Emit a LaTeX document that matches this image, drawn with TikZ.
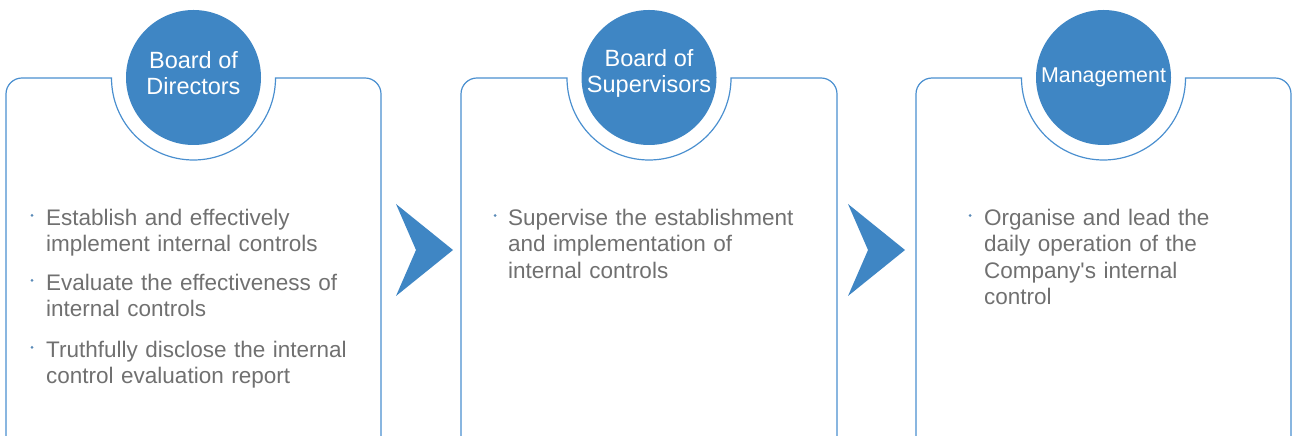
\documentclass[tikz,border=0pt]{standalone}
\usepackage{fontspec}
\setmainfont{Liberation Sans}[Ligatures=TeXOff]
\definecolor{cblue}{HTML}{3F86C4}
\definecolor{lineblue}{HTML}{4A8FCF}
\definecolor{txtgray}{HTML}{707070}
\tikzset{
  x=1pt,y=1pt,
  boxline/.style={draw=lineblue,line width=1.2pt},
  head/.style={circle,fill=cblue,minimum size=135pt,inner sep=0pt},
  headtext/.style={text=white,align=center,inner sep=0pt,font=\fontsize{23.5}{26}\selectfont},
  chev/.style={fill=cblue,draw=none},
  item/.style={anchor=north west,inner sep=0pt,text=txtgray,text width=330pt,align=left,
    font=\fontsize{22.5}{26.5}\selectfont},
  dot/.style={circle,fill=lineblue!70!gray,inner sep=0pt,minimum size=3pt}
}
\begin{document}
\begin{tikzpicture}
\useasboundingbox (0,0) rectangle (1292,436);
\begin{scope}
\clip (0,0) rectangle (1292,436);
% boxes
\draw[boxline] (6,-5) -- (6,342) arc[start angle=180,end angle=90,radius=16]
  -- (111.5,358) arc[start angle=180,end angle=360,radius=82]
  -- (365,358) arc[start angle=90,end angle=0,radius=16] -- (381,-5);
\draw[boxline] (461,-5) -- (461,342) arc[start angle=180,end angle=90,radius=16]
  -- (567,358) arc[start angle=180,end angle=360,radius=82]
  -- (821,358) arc[start angle=90,end angle=0,radius=16] -- (837,-5);
\draw[boxline] (916,-5) -- (916,342) arc[start angle=180,end angle=90,radius=16]
  -- (1021.5,358) arc[start angle=180,end angle=360,radius=82]
  -- (1275,358) arc[start angle=90,end angle=0,radius=16] -- (1291,-5);
\end{scope}
% circles
\node[head] (c1) at (193.5,358.5) {};
\node[head] (c2) at (649,358.5) {};
\node[head] (c3) at (1103.5,358.5) {};
\node[headtext] (t1) at ([yshift=4]c1.center) {Board of\\Directors};
\node[headtext] (t2) at ([yshift=4]c2.center) {Board of\\Supervisors};
\node[headtext,font=\fontsize{21.4}{24}\selectfont] (t3) at (c3.center) {Management};
% chevrons
\fill[chev] (396,232) -- (453,186) -- (396,140) -- (416,186) -- cycle;
\fill[chev] (848,232) -- (905,186) -- (848,140) -- (868,186) -- cycle;
% texts box 1
\node[dot] (b11) at (32,220.5) {};
\node[item] (i11) at (46,227.4) {Establish and effectively\\implement internal controls};
\node[dot] (b12) at (32,155.5) {};
\node[item] (i12) at (46,162.4) {Evaluate the effectiveness of\\internal controls};
\node[dot] (b13) at (32,88.5) {};
\node[item] (i13) at (46,95.4) {Truthfully disclose the internal\\control evaluation report};
% box 2
\node[dot] (b21) at (495,220.5) {};
\node[item] (i21) at (508,227.4) {Supervise the establishment\\and implementation of\\internal controls};
% box 3
\node[dot] (b31) at (970,220.5) {};
\node[item] (i31) at (984,227.4) {Organise and lead the\\daily operation of the\\Company's internal\\control};
\end{tikzpicture}
\end{document}
